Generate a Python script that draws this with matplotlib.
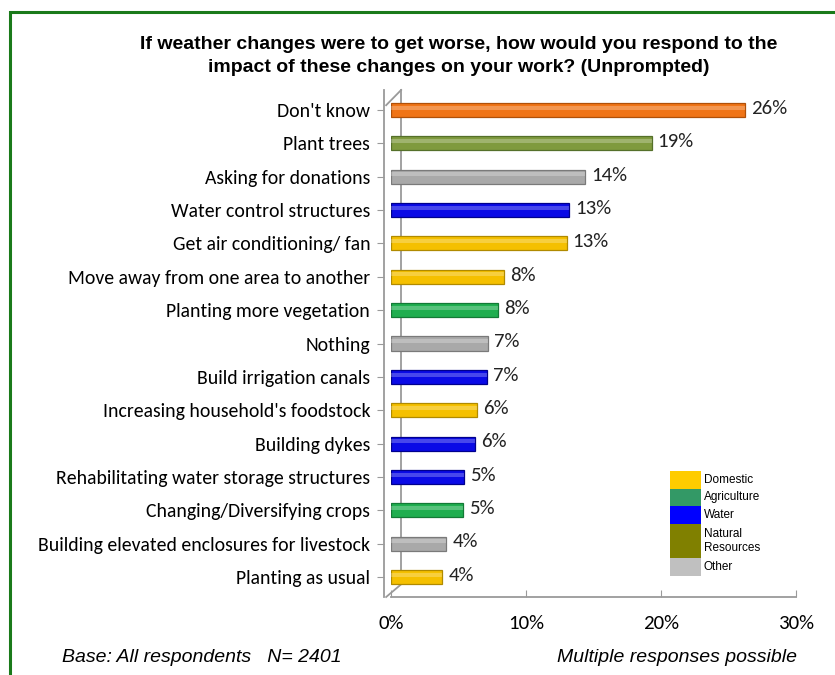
import matplotlib
matplotlib.use("Agg")
import matplotlib.pyplot as plt
from matplotlib.patches import Rectangle
from matplotlib.lines import Line2D
from matplotlib import font_manager

# responses, top to bottom
responses = [
    "Don't know",
    "Plant trees",
    "Asking for donations",
    "Water control structures",
    "Get air conditioning/ fan",
    "Move away from one area to another",
    "Planting more vegetation",
    "Nothing",
    "Build irrigation canals",
    "Increasing household's foodstock",
    "Building dykes",
    "Rehabilitating water storage structures",
    "Changing/Diversifying crops",
    "Building elevated enclosures for livestock",
    "Planting as usual",
]
shares = [26.2, 19.3, 14.4, 13.2, 13.0, 8.4, 7.9, 7.2, 7.1, 6.4, 6.2, 5.4, 5.3, 4.1, 3.8]
bar_colors = ["#f07416", "#7f9a3e", "#a9a9a9", "#0a0ae6", "#f5c000",
              "#f5c000", "#1fae4f", "#a9a9a9", "#0a0ae6", "#f5c000",
              "#0a0ae6", "#0a0ae6", "#1fae4f", "#a9a9a9", "#f5c000"]
edge_colors = ["#b05008", "#55702a", "#7a7a7a", "#00008c", "#b08a00",
               "#b08a00", "#137a36", "#7a7a7a", "#00008c", "#b08a00",
               "#00008c", "#00008c", "#137a36", "#7a7a7a", "#b08a00"]

x_ticks = [0, 10, 20, 30]

legend_names = ["Domestic", "Agriculture", "Water", "Natural\nResources", "Other"]
legend_colors = ["#ffcc00", "#339966", "#0000ff", "#808000", "#c0c0c0"]
legend_rows = [1, 1, 1, 2, 1]

installed = {f.name for f in font_manager.fontManager.ttflist}
label_font = [f for f in ["Carlito", "Lato", "Open Sans"] if f in installed] + ["DejaVu Sans"]
narrow_font = ["Liberation Sans", "DejaVu Sans"]

fig = plt.figure(figsize=(8.35, 6.75), dpi=100)
W, H = 835, 675

def fx(px):
    return px / W

def fy(py):
    return 1 - py / H

# green frame running off the right and bottom edges
fig.patches.append(Rectangle((fx(11), fy(700)), fx(900), fy(13) - fy(700),
                             transform=fig.transFigure, fill=False,
                             edgecolor="#9a9a9a", lw=1.2, zorder=0))
fig.patches.append(Rectangle((fx(10), fy(700)), fx(900), fy(12) - fy(700),
                             transform=fig.transFigure, fill=False,
                             edgecolor="#1a7a1a", lw=2.2, zorder=1))

ax = fig.add_axes([fx(391), fy(597), fx(796) - fx(391), fy(90) - fy(597)])
# move the spine first: it resets the tick labels
ax.spines["left"].set_position(("outward", 5))
for side in ["top", "right"]:
    ax.spines[side].set_visible(False)
for side in ["left", "bottom"]:
    ax.spines[side].set_color("#9a9a9a")
    ax.spines[side].set_linewidth(1.3)

n = len(responses)
ypos = list(range(n))

bars = ax.barh(ypos, shares, height=0.42, color=bar_colors,
               edgecolor=edge_colors, linewidth=0.9, zorder=3)
# lighter strip to give the bars a rounded look
ax.barh([y - 0.07 for y in ypos], shares, height=0.12, color="white",
        alpha=0.25, linewidth=0, zorder=4)

for y, v in zip(ypos, shares):
    ax.text(v + 0.45, y - 0.05, f"{v:.0f}%", va="center", ha="left",
            fontsize=15, family=label_font, color="#222222")

ax.set_ylim(n - 0.4, -0.6)
ax.set_xlim(0, 30)
ax.set_yticks(ypos)
ax.set_yticklabels(responses, fontsize=14.2, family=label_font)
ax.set_xticks(x_ticks)
ax.set_xticklabels([f"{t}%" for t in x_ticks], fontsize=15, family=label_font)
ax.tick_params(axis="y", length=5, color="#9a9a9a", pad=5)
ax.tick_params(axis="x", length=5, color="#9a9a9a", pad=13, direction="in")

# back wall of the 3D frame
ax.add_line(Line2D([0.025, 0.025], [0.025, 1.0], transform=ax.transAxes,
                   color="#9a9a9a", lw=1.3, clip_on=False, zorder=2))
ax.add_line(Line2D([-0.012, 0.025], [0.0, 0.025], transform=ax.transAxes,
                   color="#9a9a9a", lw=1.3, clip_on=False, zorder=2))
ax.add_line(Line2D([-0.012, 0.025], [0.97, 1.0], transform=ax.transAxes,
                   color="#9a9a9a", lw=1.3, clip_on=False, zorder=2))

# category legend drawn as stacked colour blocks
top = 471
row_h = 17.5
for name, col, rows in zip(legend_names, legend_colors, legend_rows):
    h = row_h * rows
    fig.patches.append(Rectangle((fx(670), fy(top + h)), fx(31), fy(top) - fy(top + h),
                                 transform=fig.transFigure, color=col, lw=0))
    fig.text(fx(704), fy(top + h / 2), name, fontsize=8.5, va="center",
             ha="left", family=narrow_font, linespacing=1.3)
    top += h

fig.text(fx(459), fy(56), "If weather changes were to get worse, how would you respond to the\n"
         "impact of these changes on your work? (Unprompted)",
         ha="center", va="center", fontsize=14, fontweight="bold",
         family=narrow_font, linespacing=1.4)

fig.text(fx(62), fy(658), "Base: All respondents   N= 2401", ha="left", va="center",
         fontsize=14, style="italic", family=narrow_font)
fig.text(fx(797), fy(658), "Multiple responses possible", ha="right", va="center",
         fontsize=14, style="italic", family=narrow_font)

fig.savefig("out.png", dpi=100)
